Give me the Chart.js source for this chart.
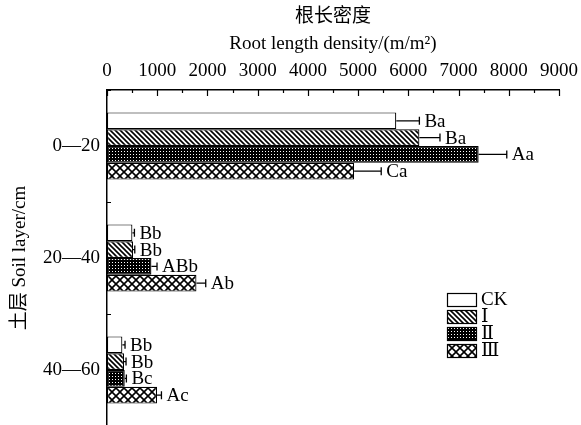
<!DOCTYPE html>
<html>
<head>
<meta charset="utf-8">
<script src="https://cdn.jsdelivr.net/npm/chart.js@4.4.1/dist/chart.umd.min.js"></script>
<style>
  html, body { margin: 0; padding: 0; background: #fff; overflow: hidden; }
  #wrap { width: 581px; height: 425px; overflow: hidden; }
</style>
</head>
<body>
<div id="wrap"><canvas id="c" width="581" height="430"></canvas></div>
<script>
// Soil layers (categories)
const layers = ['0—20', '20—40', '40—60'];
// Treatments
const seriesNames = ['CK', 'Ⅰ', 'Ⅱ', 'Ⅲ'];
// Root length density means (m/m²)
const ckValues   = [5760, 506, 306];
const t1Values   = [6220, 518, 339];
const t2Values   = [7400, 884, 353];
const t3Values   = [4920, 1781, 996];
// Standard errors
const ckErrors   = [460, 40, 53];
const t1Errors   = [410, 35, 40];
const t2Errors   = [560, 112, 33];
const t3Errors   = [540, 185, 88];
// Significance letters
const ckLetters  = ['Ba', 'Bb', 'Bb'];
const t1Letters  = ['Ba', 'Bb', 'Bb'];
const t2Letters  = ['Aa', 'ABb', 'Bc'];
const t3Letters  = ['Ca', 'Ab', 'Ac'];
// Axis ticks
const xTicks = [0, 1000, 2000, 3000, 4000, 5000, 6000, 7000, 8000, 9000];

const SERIF = "'Liberation Serif','Noto Sans CJK SC',serif";
const LEGEND_FONT = "'Liberation Serif','DejaVu Serif','Noto Sans CJK SC',serif";

function makeTile(size, draw) {
  const c = document.createElement('canvas');
  c.width = size; c.height = size;
  const g = c.getContext('2d');
  draw(g, size);
  return document.getElementById('c').getContext('2d').createPattern(c, 'repeat');
}

const patWhite = '#ffffff';
const patDiag = makeTile(5, (g, s) => {
  g.fillStyle = '#fff'; g.fillRect(0, 0, s, s);
  g.strokeStyle = '#000'; g.lineWidth = 1.6;
  g.beginPath();
  g.moveTo(-1, -1); g.lineTo(s + 1, s + 1);
  g.moveTo(-1, s - 1); g.lineTo(1, s + 1);
  g.moveTo(s - 1, -1); g.lineTo(s + 1, 1);
  g.stroke();
});
const patDots = makeTile(3, (g, s) => {
  g.fillStyle = '#000'; g.fillRect(0, 0, s, s);
  g.fillStyle = '#fff'; g.fillRect(1, 1, 1, 1);
});
const patCross = makeTile(8, (g, s) => {
  g.fillStyle = '#fff'; g.fillRect(0, 0, s, s);
  g.strokeStyle = '#000'; g.lineWidth = 1.6;
  g.beginPath();
  g.moveTo(-1, -1); g.lineTo(s + 1, s + 1);
  g.moveTo(s + 1, -1); g.lineTo(-1, s + 1);
  g.stroke();
});

const fills = [patWhite, patDiag, patDots, patCross];
const values = [ckValues, t1Values, t2Values, t3Values];
const errors = [ckErrors, t1Errors, t2Errors, t3Errors];
const letters = [ckLetters, t1Letters, t2Letters, t3Letters];

const datasets = seriesNames.map((name, i) => ({
  label: name,
  data: values[i],
  errors: errors[i],
  letters: letters[i],
  backgroundColor: fills[i],
  borderColor: '#000',
  borderWidth: 1.2,
  borderSkipped: false,
  categoryPercentage: 0.6,
  barPercentage: 1.0
}));

// Error bars with caps, and significance letters after them
const errorBarPlugin = {
  id: 'errorBars',
  afterDatasetsDraw(chart) {
    const ctx = chart.ctx;
    const xs = chart.scales.x;
    ctx.save();
    chart.data.datasets.forEach((ds, di) => {
      const meta = chart.getDatasetMeta(di);
      meta.data.forEach((bar, j) => {
        const x0 = bar.x;
        const x1 = xs.getPixelForValue(ds.data[j] + ds.errors[j]);
        const y = bar.y;
        ctx.strokeStyle = '#000';
        ctx.lineWidth = 1.3;
        ctx.beginPath();
        ctx.moveTo(x0, y); ctx.lineTo(x1, y);
        ctx.moveTo(x1, y - 4); ctx.lineTo(x1, y + 4);
        ctx.stroke();
        ctx.fillStyle = '#000';
        ctx.font = '19px ' + SERIF;
        ctx.textAlign = 'left';
        ctx.textBaseline = 'middle';
        ctx.fillText(ds.letters[j], x1 + 5, y + 1);
      });
    });
    ctx.restore();
  }
};

// Inward tick marks on both axes
const innerTicksPlugin = {
  id: 'innerTicks',
  afterDraw(chart) {
    const ctx = chart.ctx;
    const xs = chart.scales.x, ys = chart.scales.y;
    const area = chart.chartArea;
    ctx.save();
    ctx.strokeStyle = '#000';
    ctx.lineWidth = 1.2;
    ctx.beginPath();
    for (let v = 0; v <= 9000; v += 500) {
      const px = Math.round(xs.getPixelForValue(v)) + 0.5;
      const len = v % 1000 === 0 ? 6 : 3;
      ctx.moveTo(px, area.top); ctx.lineTo(px, area.top + len);
    }
    for (let i = 0; i <= layers.length; i++) {
      const py = Math.round(ys.getPixelForValue(i - 0.5)) + 0.5;
      ctx.moveTo(area.left, py); ctx.lineTo(area.left + 4, py);
    }
    ctx.stroke();
    ctx.restore();
  }
};

// Legend box inside the plot
const legendBoxPlugin = {
  id: 'legendBox',
  afterDraw(chart) {
    const ctx = chart.ctx;
    ctx.save();
    const bx = 447, bw = 29, bh = 13, top0 = 293, step = 17;
    chart.data.datasets.forEach((ds, i) => {
      const y = top0 + i * step;
      ctx.fillStyle = ds.backgroundColor;
      ctx.fillRect(bx, y, bw, bh);
      ctx.strokeStyle = '#000';
      ctx.lineWidth = 1.2;
      ctx.strokeRect(bx + 0.5, y + 0.5, bw, bh);
      ctx.fillStyle = '#000';
      ctx.font = '19px ' + LEGEND_FONT;
      ctx.textAlign = 'left';
      ctx.textBaseline = 'middle';
      ctx.fillText(ds.label, bx + bw + 5, y + bh / 2 + 1);
    });
    ctx.restore();
  }
};

new Chart(document.getElementById('c'), {
  type: 'bar',
  data: { labels: layers, datasets },
  plugins: [errorBarPlugin, innerTicksPlugin, legendBoxPlugin],
  options: {
    indexAxis: 'y',
    responsive: false,
    animation: false,
    devicePixelRatio: 1,
    layout: { padding: { left: 0, right: 22, top: 0, bottom: 4 } },
    plugins: {
      legend: { display: false },
      tooltip: { enabled: false },
      title: { display: false }
    },
    scales: {
      x: {
        position: 'top',
        min: 0,
        max: 9000,
        afterBuildTicks(scale) { scale.ticks = xTicks.map(v => ({ value: v })); },
        afterFit(scale) {
          scale.height = 90;
          scale.paddingLeft = 0;
          scale.paddingRight = 0;
        },
        grid: { display: false, drawTicks: false },
        border: { display: true, color: '#000', width: 1.5 },
        ticks: {
          color: '#000',
          padding: 8,
          maxRotation: 0,
          autoSkip: false,
          font: { family: SERIF, size: 19 },
          callback: v => String(v)
        },
        title: {
          display: true,
          text: ['根长密度', 'Root length density/(m/m²)'],
          color: '#000',
          font: { family: SERIF, size: 19, lineHeight: 1.42 },
          padding: { top: 3.5, bottom: 0 }
        }
      },
      y: {
        afterFit(scale) {
          scale.width = 107;
          scale.paddingTop = 0;
          scale.paddingBottom = 0;
        },
        grid: { display: false, drawTicks: false },
        border: { display: true, color: '#000', width: 1.5 },
        ticks: {
          color: '#000',
          padding: 7,
          font: { family: SERIF, size: 19 }
        },
        title: {
          display: true,
          text: '土层 Soil layer/cm',
          color: '#000',
          font: { family: SERIF, size: 19, lineHeight: 1.2 },
          padding: { top: 9, bottom: 0 }
        }
      }
    }
  }
});
</script>
</body>
</html>
